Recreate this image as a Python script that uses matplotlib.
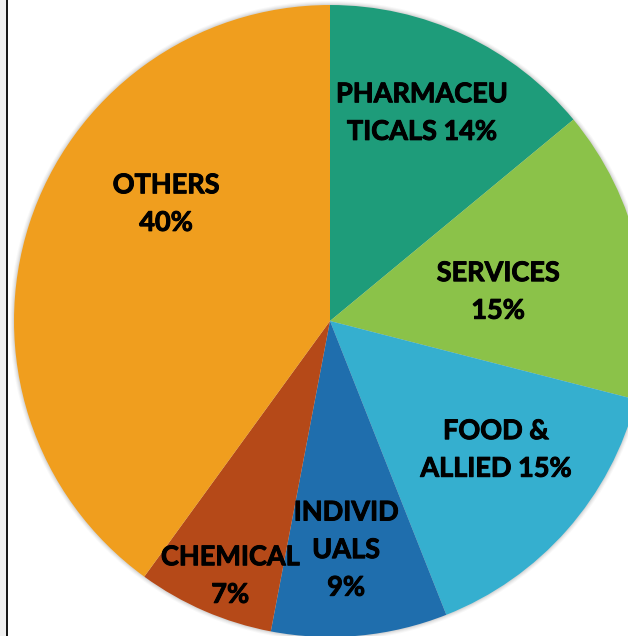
import numpy as np
import matplotlib.pyplot as plt
import matplotlib.patheffects as pe
from matplotlib.patches import Circle, Rectangle

# data, clockwise from 12 o'clock
sectors = ['PHARMACEU\nTICALS', 'SERVICES', 'FOOD &\nALLIED', 'INDIVID\nUALS', 'CHEMICAL', 'OTHERS']
shares = [14, 15, 15, 9, 7, 40]
same_line = [True, False, True, False, False, False]
colors = ['#1e9c7a', '#8bc249', '#35afcf', '#1f6ead', '#b54918', '#f09e1e']

# label offsets in radius units (excel places them by hand)
label_pos = [(0.291, 0.658), (0.532, 0.092), (0.525, -0.408),
             (0.051, -0.725), (-0.316, -0.807), (-0.519, 0.370)]

W, H = 628, 636
cx, cy, R = 330, H - 321, 316

plt.rcParams['font.family'] = ['Lato', 'DejaVu Sans']

fig = plt.figure(figsize=(W / 100, H / 100), dpi=100)
fig.patch.set_facecolor('white')
ax = fig.add_axes([0, 0, 1, 1])

# soft shadow around the pie
for i, a in enumerate([0.05, 0.07, 0.09, 0.12]):
    ax.add_patch(Circle((cx, cy), R + 4 - i, color='#7f7f7f', alpha=a, lw=0, zorder=0))

wedges, _ = ax.pie(shares, colors=colors, startangle=90, counterclock=False,
                   center=(cx, cy), radius=R, wedgeprops=dict(linewidth=0))
for w in wedges:
    w.set_zorder(1)

for name, s, one, (px, py) in zip(sectors, shares, same_line, label_pos):
    sep = ' ' if one else '\n'
    txt = name + sep + str(s) + '%'
    ax.text(cx + px * R, cy + py * R, txt, ha='center', va='center',
            fontsize=19.5, fontweight='bold', color='black',
            linespacing=1.68, zorder=3,
            path_effects=[pe.withStroke(linewidth=0.7, foreground='black')])

# window edge on the left
ax.add_patch(Rectangle((0, 0), 6, H, color='#f0f0f0', lw=0, zorder=4))
ax.plot([7, 7], [0, H], color='black', lw=1.3, zorder=5)

ax.set_xlim(0, W)
ax.set_ylim(0, H)
ax.set_aspect('equal')
ax.axis('off')

fig.savefig('out.png', dpi=100)
